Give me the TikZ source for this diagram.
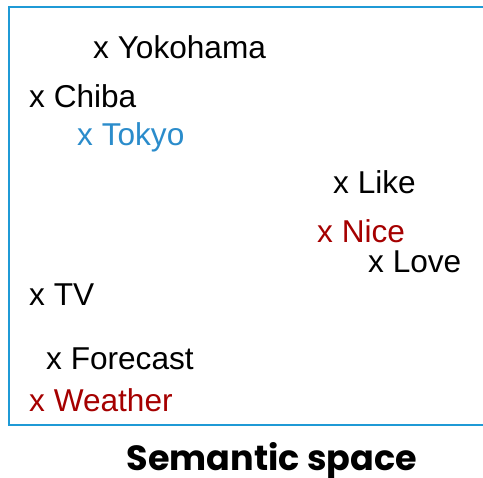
\documentclass[tikz,border=0pt]{standalone}
\usepackage{fontspec}
\setmainfont{Liberation Sans}
\newfontfamily\titlefont{Poppins}
\definecolor{boxblue}{HTML}{1F9AD6}
\definecolor{wordblue}{HTML}{2B8CCB}
\definecolor{wordred}{HTML}{A50000}
\begin{document}
\begin{tikzpicture}[x=1pt,y=-1pt,
  word/.style={anchor=base west,inner sep=0pt,font=\fontsize{31.6}{36}\selectfont},
  hl/.style={word,text=wordblue},
  rd/.style={word,text=wordred}]
\useasboundingbox (0,0) rectangle (483,478);
\begin{scope}
\clip (0,0) rectangle (483,478);
\draw[boxblue,line width=2pt] (9,7) rectangle (495,425);
\end{scope}
\node[word] (yoko) at (93,58.5) {x Yokohama};
\node[word] (chiba) at (29,107.5) {x Chiba};
\node[hl] (tokyo) at (77,145.5) {x Tokyo};
\node[word] (like) at (333,193.5) {x Like};
\node[rd] (nice) at (317,242.5) {x Nice};
\node[word] (love) at (368,273) {x Love};
\node[word] (tv) at (29,305.5) {x TV};
\node[word] (fore) at (46,369.5) {x Forecast};
\node[rd] (weather) at (29,411.5) {x Weather};
\node[anchor=base,inner sep=0pt,font=\titlefont\bfseries\fontsize{35}{40}\selectfont] (title) at (272,471) {Semantic space};
\end{tikzpicture}
\end{document}
